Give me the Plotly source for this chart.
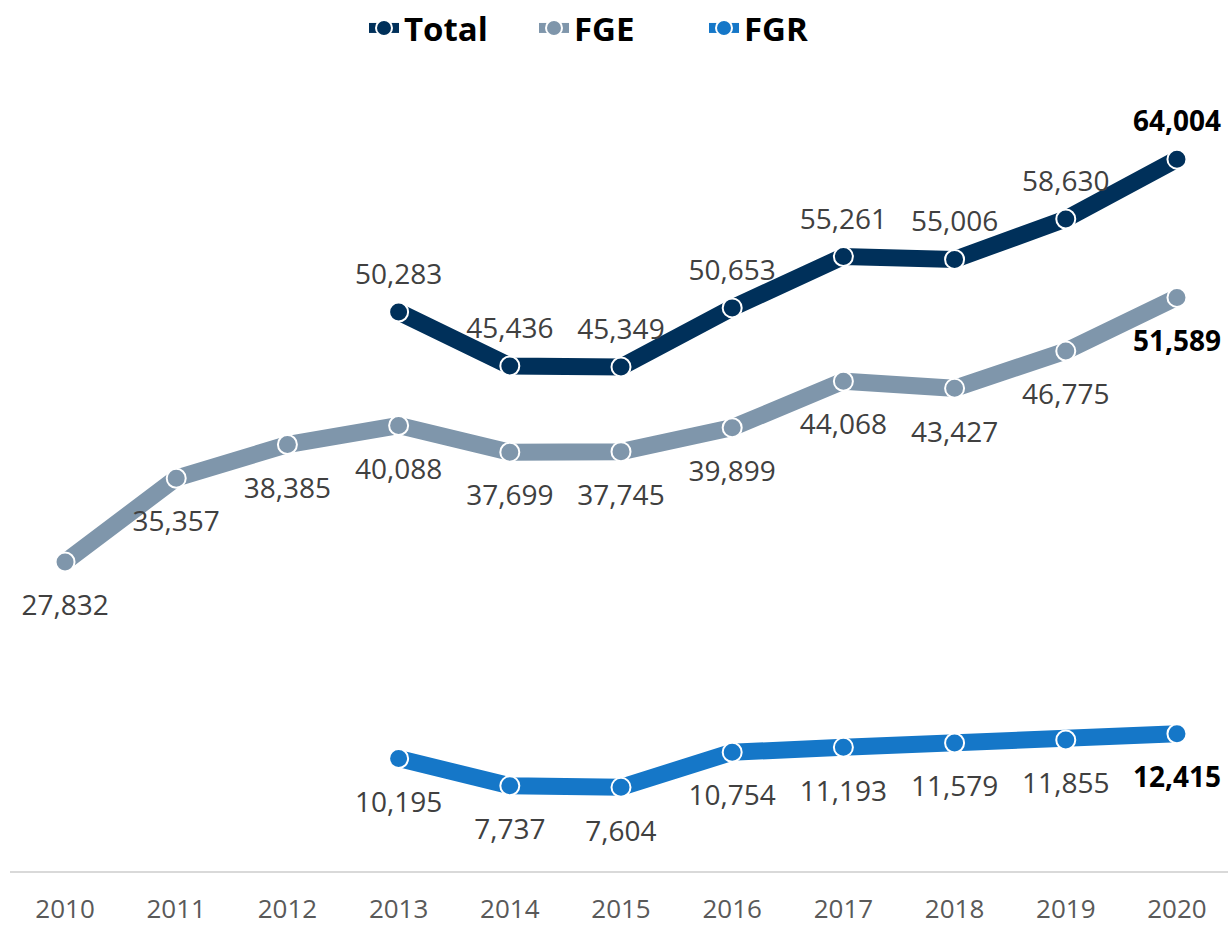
import plotly.graph_objects as go

years = ["2010", "2011", "2012", "2013", "2014", "2015", "2016", "2017", "2018", "2019", "2020"]
total = [None, None, None, 50283, 45436, 45349, 50653, 55261, 55006, 58630, 64004]
fge = [27832, 35357, 38385, 40088, 37699, 37745, 39899, 44068, 43427, 46775, 51589]
fgr = [None, None, None, 10195, 7737, 7604, 10754, 11193, 11579, 11855, 12415]

series = [
    ("Total", total, "#00305A", "top center", 32),
    ("FGE", fge, "#7F96AB", "bottom center", 50),
    ("FGR", fgr, "#1577C8", "bottom center", 50),
]

FONT = "Open Sans"
fig = go.Figure()
for name, vals, color, pos, gap in series:
    fig.add_trace(go.Scatter(
        x=years, y=vals, name=name, mode="lines+markers",
        line=dict(color=color, width=17),
        marker=dict(size=19, color=color, line=dict(color="white", width=2)),
        connectgaps=False, cliponaxis=False, hoverinfo="skip",
    ))

for name, vals, color, pos, gap in series:
    n = len(vals)
    texts, tcolors = [], []
    for i, v in enumerate(vals):
        if v is None:
            texts.append("")
            tcolors.append("#404040")
        elif i == n - 1:
            texts.append(f"<b>{v:,}</b>")
            tcolors.append("#000000")
        else:
            texts.append(f"{v:,}")
            tcolors.append("#404040")
    fig.add_trace(go.Scatter(
        x=years, y=vals, mode="markers+text", showlegend=False, hoverinfo="skip",
        marker=dict(size=gap, color="rgba(0,0,0,0)", line=dict(width=0)),
        text=texts, textposition=pos,
        textfont=dict(family=FONT, size=28, color=tcolors),
        cliponaxis=False,
    ))

fig.update_layout(
    width=1228, height=926,
    margin=dict(l=10, r=0, t=59, b=54, autoexpand=False),
    paper_bgcolor="white", plot_bgcolor="white",
    font=dict(family=FONT),
    showlegend=True,
    legend=dict(orientation="h", x=0.5, xanchor="center", y=1, yanchor="top",
                yref="container", font=dict(family=FONT, size=33, color="black", weight="bold"),
                itemwidth=30, tracegroupgap=0, entrywidth=125),
    xaxis=dict(type="category", range=[-0.495, 10.459], showgrid=False, automargin=False,
               showline=False, zeroline=False, ticks="",
               tickfont=dict(family=FONT, size=26, color="#595959"), ticklabelstandoff=19),
    yaxis=dict(range=[0, 73000], showgrid=False, zeroline=True, zerolinecolor="#D9D9D9",
               zerolinewidth=2, showticklabels=False, showline=False, ticks="", automargin=False),
)

fig.write_html("out.html",
               config={"displayModeBar": False},
               post_script="document.body.style.margin='0';document.body.style.overflow='hidden';")
